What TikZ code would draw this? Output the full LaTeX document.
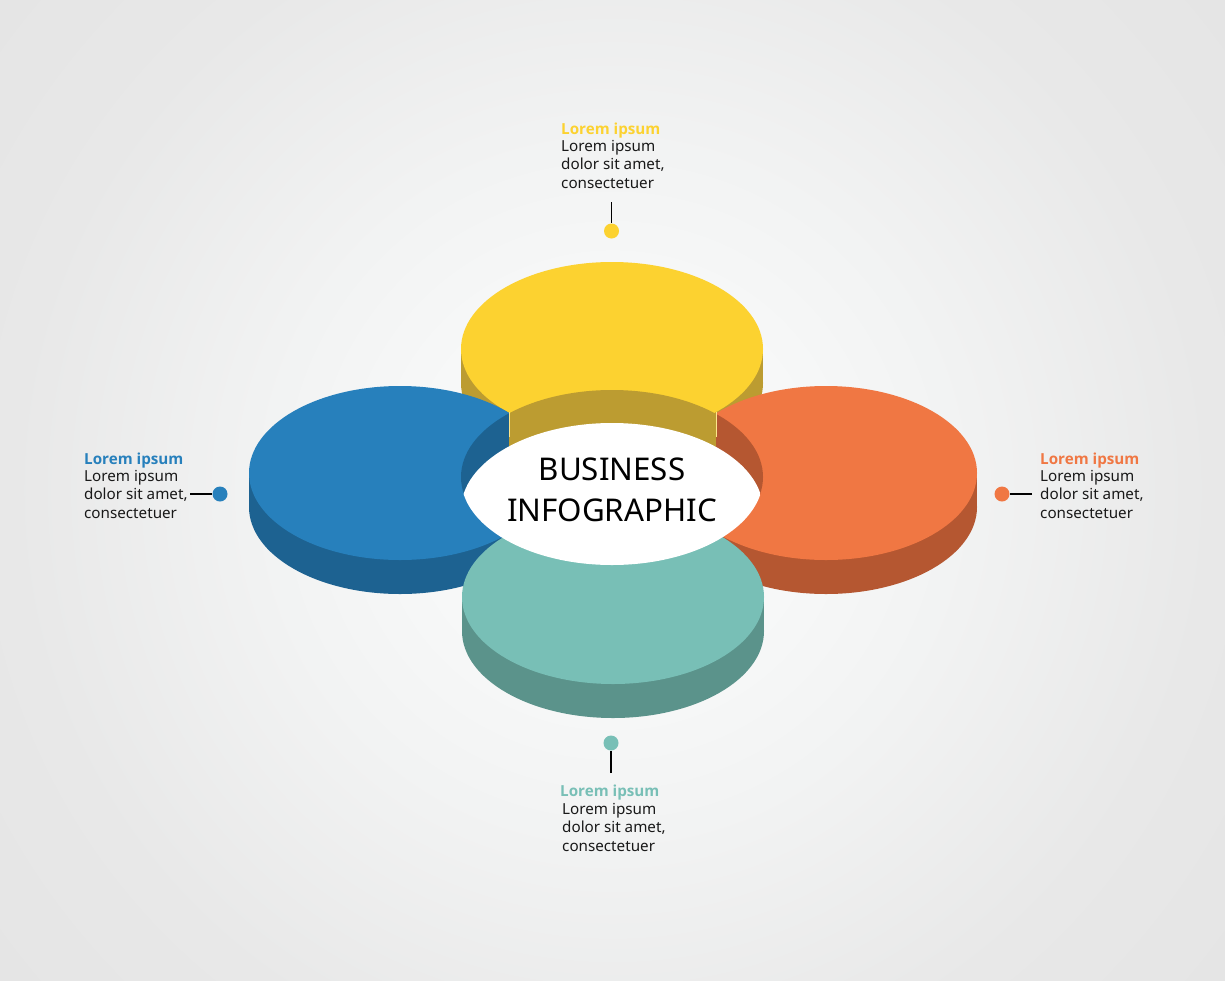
\documentclass[tikz,border=0pt]{standalone}
\usepackage{fontspec}
\setmainfont{Noto Sans}
\newfontfamily\titleface{Open Sans}
\definecolor{cy}{HTML}{FCD230}\definecolor{cyd}{HTML}{BC9C31}
\definecolor{cb}{HTML}{2780BC}\definecolor{cbd}{HTML}{1D6291}
\definecolor{co}{HTML}{F07743}\definecolor{cod}{HTML}{B55731}
\definecolor{ct}{HTML}{78BFB6}\definecolor{ctd}{HTML}{5B938B}
\definecolor{bg0}{HTML}{F8F9F9}\definecolor{bg1}{HTML}{F7F8F8}\definecolor{bg2}{HTML}{F2F3F3}\definecolor{bg3}{HTML}{E8E8E8}\definecolor{bg4}{HTML}{E5E5E5}
\pgfdeclareradialshading{bgshade}{\pgfpoint{0bp}{0bp}}{color(0bp)=(bg0); color(8bp)=(bg1); color(14bp)=(bg2); color(24.5bp)=(bg3); color(32bp)=(bg4); color(100bp)=(bg4)}
\newcommand{\discshape}[4]{%
  \fill[#4] (#1-151,#2) rectangle (#1+151,#2+34);
  \fill[#4] (#1,#2+34) ellipse [x radius=151pt,y radius=87pt];
  \fill[#3] (#1,#2) ellipse [x radius=151pt,y radius=87pt];}
\tikzset{
  title/.style={anchor=base west,inner sep=0pt,font=\titleface\bfseries\fontsize{15.2pt}{18pt}\selectfont},
  body/.style={anchor=base west,inner sep=0pt,align=left,font=\fontsize{15.2pt}{18.2pt}\selectfont,text=black!90},
  dot/.style={circle,minimum size=15pt,inner sep=0pt},
  leader/.style={draw=black,line width=1.1pt},
  headline/.style={align=center,inner sep=0pt,font=\fontsize{31.3pt}{41pt}\selectfont,text=black}
}
\begin{document}
\begin{tikzpicture}[x=1pt,y=-1pt]
\useasboundingbox (0,0) rectangle (1225,980);
\begin{scope}
  \clip (0,0) rectangle (1225,980);
  \shade[shading=bgshade] (0,-122.5) rectangle (1225,1102.5);
\end{scope}
\discshape{612}{349}{cy}{cyd}
\discshape{400}{473}{cb}{cbd}
\discshape{826}{473}{co}{cod}
\begin{scope}
  \clip (612,477) ellipse [x radius=151pt,y radius=87pt];
  \fill[cbd] (450,380) rectangle (509,570);
  \fill[cyd] (509,380) rectangle (716,570);
  \fill[cod] (716,380) rectangle (775,570);
\end{scope}
\draw[cy!55!white,line width=.6pt] (509,412) -- (509,437);
\draw[cy!55!white,line width=.6pt] (716,412) -- (716,437);
\discshape{613}{597}{ct}{ctd}
\begin{scope}
  \clip (612,510) ellipse [x radius=151pt,y radius=87pt];
  \fill[white] (612,478) ellipse [x radius=151pt,y radius=87pt];
\end{scope}
\node[headline] (center) at (612,490) {BUSINESS\\INFOGRAPHIC};
% yellow
\node[title,text=cy] (t1) at (561,134) {Lorem ipsum};
\node[body] (b1) at (561,188) {Lorem ipsum\\dolor sit amet,\\consectetuer};
\node[dot,fill=cy] (d1) at (611.5,231) {};
\coordinate (e1) at (611.5,202);
\draw[leader] (e1) -- (d1);
% blue
\node[title,text=cb] (t2) at (84,464) {Lorem ipsum};
\node[body] (b2) at (84,518) {Lorem ipsum\\dolor sit amet,\\consectetuer};
\node[dot,fill=cb] (d2) at (220,494) {};
\coordinate (e2) at (190,494);
\draw[leader] (e2) -- (d2);
% orange
\node[title,text=co] (t3) at (1040,464) {Lorem ipsum};
\node[body] (b3) at (1040,518) {Lorem ipsum\\dolor sit amet,\\consectetuer};
\node[dot,fill=co] (d3) at (1002,494) {};
\coordinate (e3) at (1032,494);
\draw[leader] (e3) -- (d3);
% teal
\node[title,text=ct] (t4) at (560,796) {Lorem ipsum};
\node[body] (b4) at (562,851) {Lorem ipsum\\dolor sit amet,\\consectetuer};
\node[dot,fill=ct] (d4) at (611,743) {};
\coordinate (e4) at (611,773);
\draw[leader] (e4) -- (d4);
\end{tikzpicture}
\end{document}
